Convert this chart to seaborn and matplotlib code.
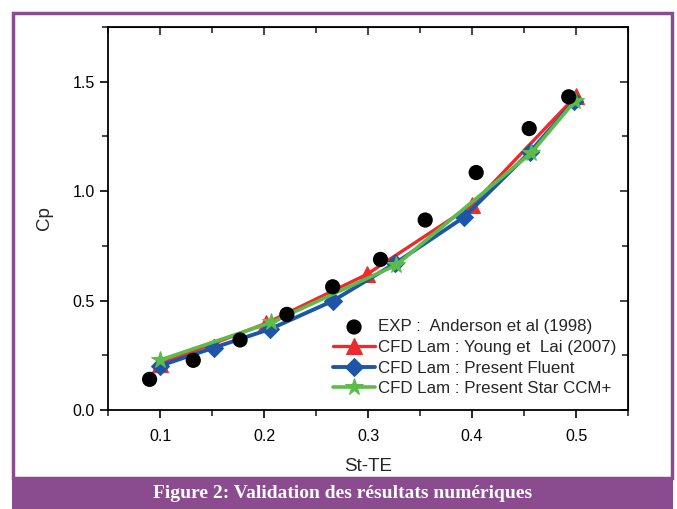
import numpy as np
import pandas as pd
import matplotlib
matplotlib.use("Agg")
import matplotlib.pyplot as plt
import seaborn as sns
from matplotlib.patches import Rectangle
from matplotlib.ticker import MultipleLocator

sns.set_style("ticks")
plt.rcParams['font.family'] = ['Liberation Sans', 'DejaVu Sans']

# EXP : Anderson et al (1998)
exp_st = [0.090, 0.132, 0.177, 0.222, 0.266, 0.312, 0.355, 0.404, 0.455, 0.493]
exp_cp = [0.140, 0.227, 0.320, 0.437, 0.563, 0.688, 0.868, 1.085, 1.286, 1.431]

# CFD Lam : Young et Lai (2007)
young_st = [0.100, 0.202, 0.299, 0.400, 0.500]
young_cp = [0.210, 0.396, 0.620, 0.936, 1.435]

# CFD Lam : Present Fluent
fluent_st = [0.100, 0.152, 0.206, 0.266, 0.326, 0.392, 0.456, 0.498]
fluent_cp = [0.202, 0.285, 0.370, 0.498, 0.670, 0.880, 1.180, 1.410]

# CFD Lam : Present Star CCM+
star_st = [0.100, 0.207, 0.327, 0.457, 0.499]
star_cp = [0.228, 0.400, 0.662, 1.175, 1.412]

labels = ["EXP :  Anderson et al (1998)", "CFD Lam : Young et  Lai (2007)",
          "CFD Lam : Present Fluent", "CFD Lam : Present Star CCM+"]

fig = plt.figure(figsize=(6.77, 5.09), dpi=100)
W, H = 677, 509

# purple frame and caption banner
purple = '#8B4B8F'
fig.patches.append(Rectangle((13 / W, 1 - 478 / H), 659 / W, 465 / H, transform=fig.transFigure,
                             fill=False, edgecolor=purple, linewidth=2.5))
fig.patches.append(Rectangle((12 / W, 0), 661 / W, 31 / H, transform=fig.transFigure,
                             facecolor=purple, edgecolor='none'))
fig.text(0.5 * (12 + 673) / W, 15.5 / H, "Figure 2: Validation des résultats numériques",
         color='white', fontsize=14, fontweight='bold', family=['Liberation Serif', 'DejaVu Serif'],
         ha='center', va='center')

ax = fig.add_axes([108 / W, 1 - 410 / H, 520 / W, 383 / H])

sns.scatterplot(x=exp_st, y=exp_cp, ax=ax, color='black', s=120, edgecolor='none',
                label=labels[0], zorder=5)
sns.lineplot(x=young_st, y=young_cp, ax=ax, color='#EE2A2A', lw=2.4, marker='^', markersize=11,
             markeredgecolor='#EE2A2A', label=labels[1], zorder=3)
sns.lineplot(x=fluent_st, y=fluent_cp, ax=ax, color='#1F55A8', lw=2.8, marker='D', markersize=9,
             markeredgecolor='#1F55A8', label=labels[2], zorder=4)
sns.lineplot(x=star_st, y=star_cp, ax=ax, color='#5DBB4A', lw=2.6, marker='*', markersize=13,
             markeredgecolor='#5DBB4A', label=labels[3], zorder=4)

ax.set_xlim(0.05, 0.55)
ax.set_ylim(0, 1.75)
ax.xaxis.set_major_locator(MultipleLocator(0.1))
ax.xaxis.set_minor_locator(MultipleLocator(0.05))
ax.yaxis.set_major_locator(MultipleLocator(0.5))
ax.yaxis.set_minor_locator(MultipleLocator(0.25))
ax.set_xticks([0.1, 0.2, 0.3, 0.4, 0.5])
ax.set_xticklabels(["0.1", "0.2", "0.3", "0.4", "0.5"])
ax.set_yticks([0.0, 0.5, 1.0, 1.5])
ax.set_yticklabels(["0.0", "0.5", "1.0", "1.5"])
ax.tick_params(which='major', direction='out', length=6, width=1.2, labelsize=11.5, colors='black')
ax.tick_params(which='minor', direction='out', length=4, width=1.2)
ax.tick_params(axis='x', pad=8)
for sp in ax.spines.values():
    sp.set_linewidth(1.3)
    sp.set_color('black')

# mirrored inward ticks on top and right
top = ax.secondary_xaxis('top')
top.xaxis.set_major_locator(MultipleLocator(0.1))
top.xaxis.set_minor_locator(MultipleLocator(0.05))
top.tick_params(which='major', direction='in', length=6, width=1.2, labeltop=False)
top.tick_params(which='minor', direction='in', length=4, width=1.2)
right = ax.secondary_yaxis('right')
right.yaxis.set_major_locator(MultipleLocator(0.5))
right.yaxis.set_minor_locator(MultipleLocator(0.25))
right.tick_params(which='major', direction='in', length=6, width=1.2, labelright=False)
right.tick_params(which='minor', direction='in', length=4, width=1.2)

ax.set_xlabel("St-TE", fontsize=13.5, labelpad=10)
ax.set_ylabel("Cp", fontsize=13.5, labelpad=14)

leg = ax.legend(loc='lower right', bbox_to_anchor=(1.0, 0.005), frameon=False, fontsize=12.2,
                handlelength=2.5, handletextpad=0.15, labelspacing=0.33, borderaxespad=0.3)

fig.savefig("out.png", dpi=100)
